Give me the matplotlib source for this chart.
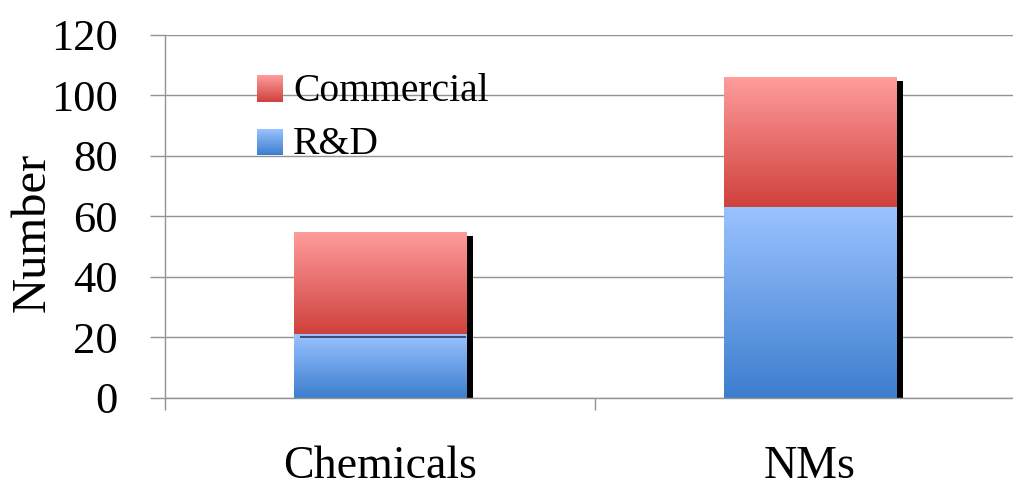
import numpy as np
import matplotlib
matplotlib.use("Agg")
import matplotlib.pyplot as plt
from matplotlib.colors import to_rgb
from matplotlib.transforms import ScaledTranslation

# Data
categories = ["Chemicals", "NMs"]
rd_values = [21, 63]
commercial_values = [34, 43]
series_labels = ["Commercial", "R&D"]
y_ticks = [0, 20, 40, 60, 80, 100, 120]

FONT = "Liberation Serif"
plt.rcParams["font.family"] = [FONT, "DejaVu Serif"]

red_top, red_bot = "#FF9D9D", "#CF413C"
blue_top, blue_bot = "#9AC2FF", "#3C7ECE"
grid_col = "#939393"


def gradient(top, bottom, n=256):
    t = np.linspace(0, 1, n)[:, None, None]
    c0 = np.array(to_rgb(top))[None, None, :]
    c1 = np.array(to_rgb(bottom))[None, None, :]
    return c0 * (1 - t) + c1 * t


fig = plt.figure(figsize=(10.13, 4.87), dpi=100)
ax = fig.add_axes([0.1629, 0.1828, 0.849, 0.7454])

x = np.arange(len(categories))
width = 0.4
totals = [a + b for a, b in zip(rd_values, commercial_values)]

# Black drop shadow behind each stacked bar
shadow = ax.bar(x, [t - 1.3 for t in totals], width, color="black", zorder=1,
                linewidth=0)
for p in shadow:
    p.set_transform(ax.transData + ScaledTranslation(7 / 100, 0, fig.dpi_scale_trans))

bars_rd = ax.bar(x, rd_values, width, color="none", linewidth=0, zorder=2)
bars_cm = ax.bar(x, commercial_values, width, bottom=rd_values, color="none",
                 linewidth=0, zorder=2)

for bars, (ct, cb) in ((bars_rd, (blue_top, blue_bot)), (bars_cm, (red_top, red_bot))):
    for p in bars:
        x0, y0 = p.get_x(), p.get_y()
        w, h = p.get_width(), p.get_height()
        im = ax.imshow(gradient(ct, cb), extent=[x0, x0 + w, y0, y0 + h],
                       aspect="auto", origin="upper", zorder=2,
                       interpolation="bilinear")
        im.set_clip_path(p)

# thin dark rule where the 20 gridline crosses the first bar
p0 = bars_rd[0]
ax.hlines(20, p0.get_x() + 0.015, p0.get_x() + p0.get_width(), color="#2b3a58",
          linewidth=1.2, zorder=3)

ax.set_xlim(-0.5, 1.5)
ax.set_ylim(0, 120)
ax.set_yticks(y_ticks)
ax.set_yticklabels([str(v) for v in y_ticks], fontsize=32)
ax.yaxis.grid(True, color=grid_col, linewidth=1)
ax.set_axisbelow(True)

ax.set_xticks(x)
ax.set_xticklabels(categories, fontsize=33)
ax.set_xticks([-0.5, 0.5, 1.5], minor=True)
ax.tick_params(axis="x", which="major", length=0, pad=34)
ax.tick_params(axis="x", which="minor", length=8.6, width=1, color=grid_col,
               direction="out")
ax.tick_params(axis="y", length=10.8, width=1, color=grid_col, pad=23,
               direction="out")

for s in ("top", "right"):
    ax.spines[s].set_visible(False)
for s in ("left", "bottom"):
    ax.spines[s].set_color(grid_col)
    ax.spines[s].set_linewidth(1)

fig.text(33 / 1013, 1 - 232 / 487, "Number", rotation=90, ha="center",
         va="center", fontsize=35)

# Legend with gradient swatches
W, H = 1013, 487
legend_rows = [
    (series_labels[0], red_top, red_bot, 75, 102),
    (series_labels[1], blue_top, blue_bot, 129, 155),
]
for label, ct, cb, ytop, ybot in legend_rows:
    sw = fig.add_axes([257 / W, 1 - ybot / H, 26 / W, (ybot - ytop) / H])
    sw.imshow(gradient(ct, cb), aspect="auto", extent=[0, 1, 0, 1])
    sw.set_axis_off()
    fig.text(293 / W, 1 - (ybot - 1) / H, label, ha="left", va="baseline",
             fontsize=28.5)

fig.savefig("out.png", dpi=100)
